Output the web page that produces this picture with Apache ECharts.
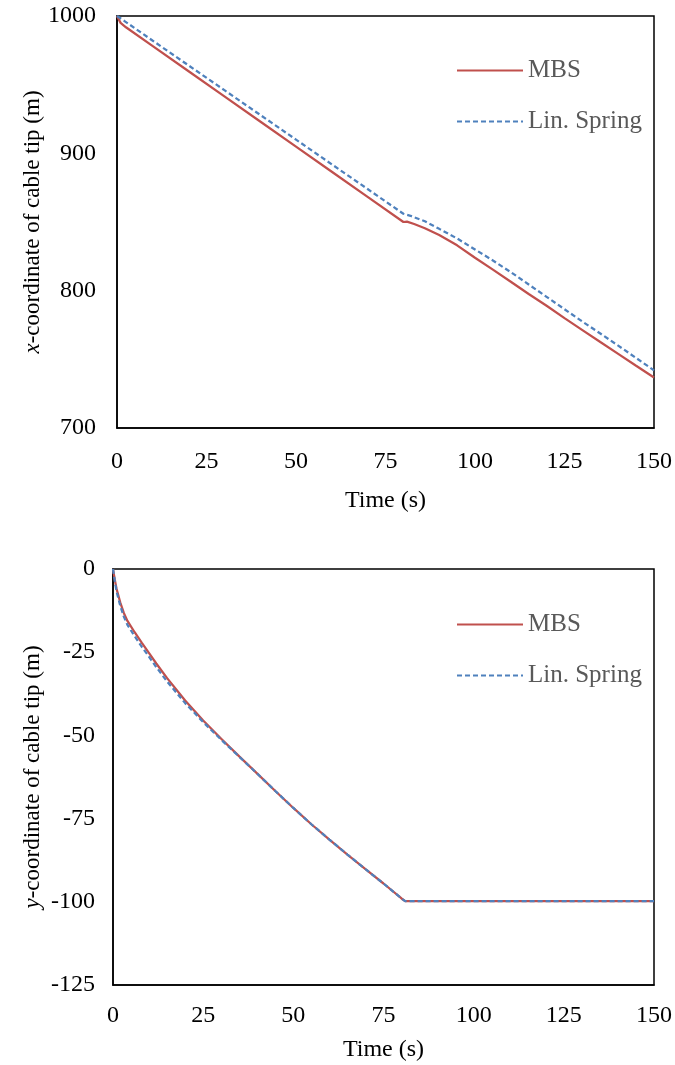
<!DOCTYPE html>
<html>
<head>
<meta charset="utf-8">
<script src="https://cdn.jsdelivr.net/npm/echarts@6/dist/echarts.min.js"></script>
<style>
html,body{margin:0;padding:0;background:#fff;}
#chart{width:675px;height:1065px;}
</style>
</head>
<body>
<div id="chart"></div>
<script>
// ---- Data ----
const seriesNames = ['MBS', 'Lin. Spring'];
const xTicks = [0, 25, 50, 75, 100, 125, 150];

// Top chart: x-coordinate of cable tip (m)
const topMbsT = [0, 1, 2.5, 10, 20, 30, 40, 50, 60, 70, 80, 81, 83, 86, 90, 95, 100, 105, 110, 115, 120, 125, 130, 135, 140, 145, 150];
const topMbsV = [1000, 995, 991.8, 978.1, 959.8, 941.5, 923.2, 904.9, 886.6, 868.3, 850, 850.3, 848.5, 845.5, 840.5, 833, 824, 815.3, 806.5, 797.6, 789, 780, 771.3, 762.6, 754, 745.3, 736.8];
const topLinT = [0, 2, 10, 20, 30, 40, 50, 60, 70, 80, 82, 86, 90, 95, 100, 105, 110, 115, 120, 125, 130, 135, 140, 145, 150];
const topLinV = [1000, 996.5, 982, 964, 946, 928, 910, 892, 874, 856, 854.5, 850.5, 845, 838, 830, 822, 813.5, 804.5, 795.5, 786.5, 777.5, 768.8, 760, 751, 742];

// Bottom chart: y-coordinate of cable tip (m)
const botMbsT = [0, 0.5, 1, 2, 3, 4, 6, 8, 10, 12, 15, 20, 25, 30, 35, 40, 45, 50, 55, 60, 65, 70, 75, 80, 81, 90, 100, 110, 120, 130, 140, 150];
const botMbsV = [0, -3.2, -6, -10, -13.2, -15.6, -19, -22.2, -25.3, -28.4, -32.8, -39.5, -45.5, -51, -56.3, -61.5, -66.7, -71.8, -76.7, -81.3, -85.8, -90.2, -94.5, -99, -99.8, -99.8, -99.8, -99.8, -99.8, -99.8, -99.8, -99.8];
const botLinT = [0, 0.5, 1, 2, 3, 4, 6, 8, 10, 12, 15, 20, 25, 30, 35, 40, 45, 50, 55, 60, 65, 70, 75, 80, 81, 90, 100, 110, 120, 130, 140, 150];
const botLinV = [0, -3.6, -6.8, -11, -14.3, -16.8, -20.2, -23.4, -26.4, -29.5, -33.8, -40.3, -46, -51.3, -56.4, -61.5, -66.7, -71.8, -76.7, -81.3, -85.8, -90.2, -94.5, -99, -99.8, -99.8, -99.8, -99.8, -99.8, -99.8, -99.8, -99.8];

const topYTicks = [700, 800, 900, 1000];
const botYTicks = [-125, -100, -75, -50, -25, 0];

// ---- Helpers ----
const zip = (t, v) => t.map((x, i) => [x, v[i]]);
const FONT = '"Liberation Serif", "Times New Roman", serif';
const colors = ['#C0504D', '#4F81BD'];
const TICK_FS = 24;

function xAxisCfg(gridIndex, nameGap, margin) {
  return {
    gridIndex, type: 'value', min: xTicks[0], max: xTicks[xTicks.length - 1],
    interval: xTicks[1] - xTicks[0],
    name: 'Time (s)', nameLocation: 'middle', nameGap,
    nameTextStyle: { fontFamily: FONT, fontSize: 24, color: '#000' },
    axisLine: { show: true, onZero: false, lineStyle: { color: '#000', width: 1.5 } },
    axisTick: { show: false },
    splitLine: { show: false },
    axisLabel: { fontFamily: FONT, fontSize: TICK_FS, color: '#000', margin, formatter: v => String(v) }
  };
}
function yAxisCfg(gridIndex, ticks, letter, nameGap, margin) {
  return {
    gridIndex, type: 'value', min: ticks[0], max: ticks[ticks.length - 1],
    interval: ticks[1] - ticks[0],
    name: '{i|' + letter + '}-coordinate of cable tip (m)',
    nameLocation: 'middle', nameGap, nameMoveOverlap: false,
    nameTextStyle: {
      fontFamily: FONT, fontSize: 23, color: '#000',
      rich: { i: { fontFamily: FONT, fontSize: 23, fontStyle: 'italic', color: '#000' } }
    },
    axisLine: { show: true, onZero: false, lineStyle: { color: '#000', width: 1.5 } },
    axisTick: { show: false },
    splitLine: { show: false },
    axisLabel: { fontFamily: FONT, fontSize: TICK_FS, color: '#000', margin, formatter: v => String(v) }
  };
}
function legendCfg(top) {
  return {
    orient: 'vertical', left: 451, top, itemWidth: 66, itemHeight: 14, itemGap: 26,
    data: seriesNames,
    itemStyle: { opacity: 0 },
    textStyle: { fontFamily: FONT, fontSize: 25, color: '#595959' },
    selectedMode: false
  };
}
function line(name, data, xi, yi, idx) {
  return {
    type: 'line', name, data, xAxisIndex: xi, yAxisIndex: yi,
    symbol: 'none', smooth: false, z: 2 + idx,
    lineStyle: { color: colors[idx], width: 2.25, type: idx === 1 ? [5, 3] : 'solid' },
    itemStyle: { color: colors[idx] }
  };
}

const chart = echarts.init(document.getElementById('chart'), null, { renderer: 'canvas' });
chart.setOption({
  backgroundColor: '#fff',
  animation: false,
  grid: [
    { left: 117, top: 16, width: 538, height: 412, show: true, borderColor: '#000', borderWidth: 1.5, backgroundColor: 'transparent' },
    { left: 113, top: 569, width: 542, height: 416, show: true, borderColor: '#000', borderWidth: 1.5, backgroundColor: 'transparent' }
  ],
  legend: [legendCfg(53), legendCfg(607)],
  xAxis: [xAxisCfg(0, 61, 22), xAxisCfg(1, 53, 19)],
  yAxis: [yAxisCfg(0, topYTicks, 'x', 73, 21), yAxisCfg(1, botYTicks, 'y', 69, 18)],
  series: [
    line(seriesNames[0], zip(topMbsT, topMbsV), 0, 0, 0),
    line(seriesNames[1], zip(topLinT, topLinV), 0, 0, 1),
    line(seriesNames[0], zip(botMbsT, botMbsV), 1, 1, 0),
    line(seriesNames[1], zip(botLinT, botLinV), 1, 1, 1)
  ]
});
</script>
</body>
</html>
